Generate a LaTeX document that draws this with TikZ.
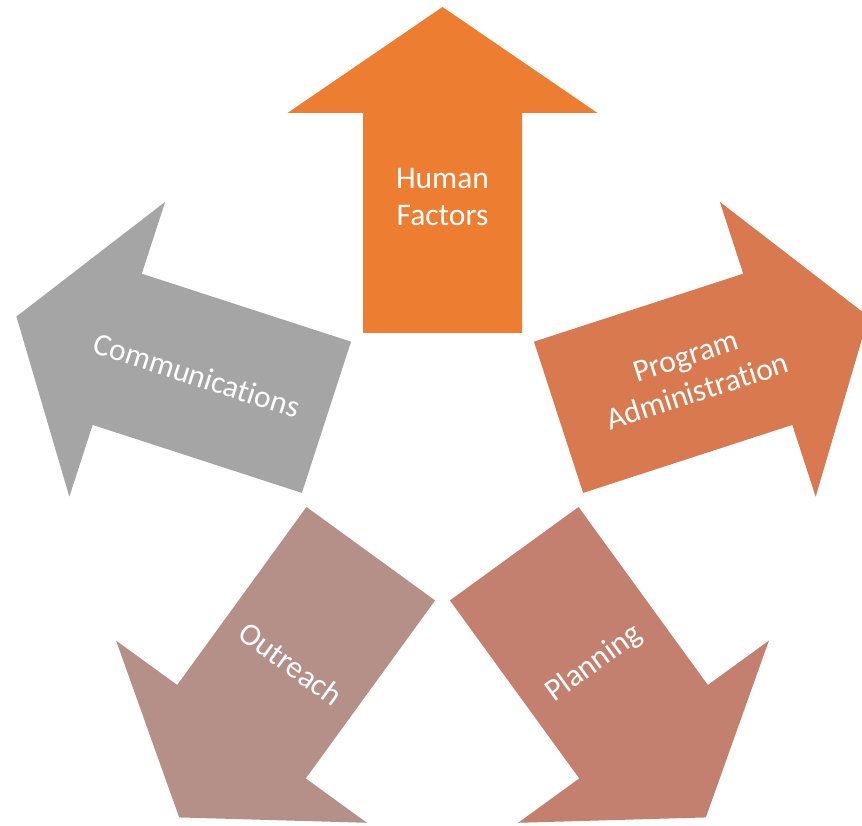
\documentclass[tikz,border=0pt]{standalone}
\usepackage{fontspec}
\setmainfont{Carlito}[Ligatures={NoCommon,NoContextual}]
\usetikzlibrary{calc}
\definecolor{cTop}{RGB}{237,125,49}
\definecolor{cRight}{RGB}{216,121,80}
\definecolor{cLeft}{RGB}{165,165,165}
\definecolor{cBL}{RGB}{181,144,137}
\definecolor{cBR}{RGB}{196,128,111}
\tikzset{
  lbl/.style={text=white, align=center, font=\fontsize{31.5}{37}\selectfont, inner sep=0pt}
}
\newcommand{\bigarrow}[2]{%
  \begin{scope}[shift={(442.5,370)}, rotate=#1]
    \fill[#2] (122,-79.5) -- (342,-79.5) -- (342,-155) -- (448,0) -- (342,155) -- (342,79.5) -- (122,79.5) -- cycle;
  \end{scope}}
\begin{document}
\begin{tikzpicture}[x=1pt,y=1pt]
\useasboundingbox (0,0) rectangle (862,825);
\coordinate (c) at (442.5,370);
\bigarrow{90}{cTop}
\bigarrow{18}{cRight}
\bigarrow{162}{cLeft}
\bigarrow{-126}{cBL}
\bigarrow{-54}{cBR}
\node[lbl] (hf) at ($(c)+(90:258)$) {Human\\Factors};
\node[lbl, rotate=18] (pa) at ($(c)+(18:262)$) {Program\\Administrat\kern0pt ion};
\node[lbl, rotate=-18] (co) at ($(c)+(162:258)$) {Communicat\kern0pt ions};
\node[lbl, rotate=-36] (ou) at ($(c)+(-126:258)$) {Outreach};
\node[lbl, rotate=36] (pl) at ($(c)+(-54:258)$) {Planning};
\end{tikzpicture}
\end{document}
